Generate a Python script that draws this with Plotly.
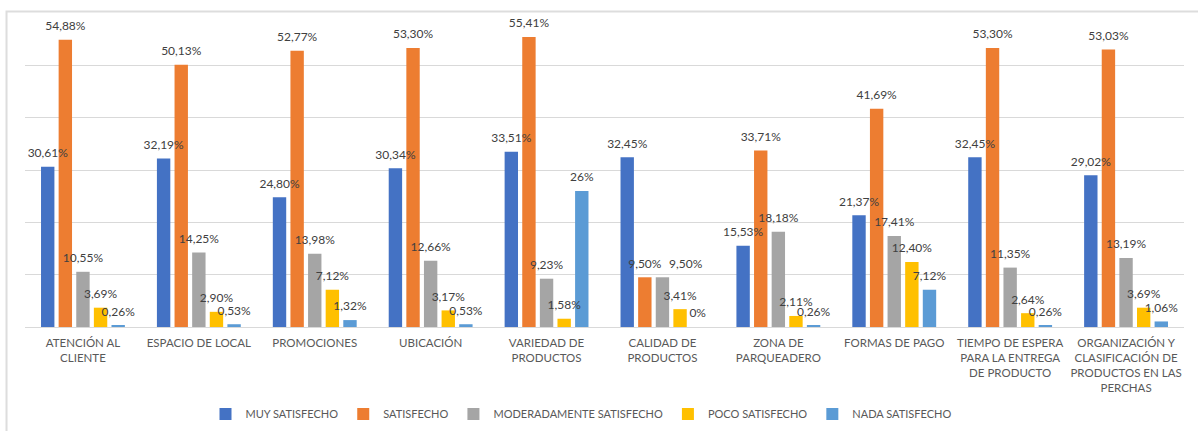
import plotly.graph_objects as go

categories = [
    "ATENCIÓN AL<br>CLIENTE",
    "ESPACIO DE LOCAL",
    "PROMOCIONES",
    "UBICACIÓN",
    "VARIEDAD DE<br>PRODUCTOS",
    "CALIDAD DE<br>PRODUCTOS",
    "ZONA DE<br>PARQUEADERO",
    "FORMAS DE PAGO",
    "TIEMPO DE ESPERA<br>PARA LA ENTREGA<br>DE PRODUCTO",
    "ORGANIZACIÓN Y<br>CLASIFICACIÓN DE<br>PRODUCTOS EN LAS<br>PERCHAS",
]

muy_satisfecho = [30.61, 32.19, 24.80, 30.34, 33.51, 32.45, 15.53, 21.37, 32.45, 29.02]
satisfecho = [54.88, 50.13, 52.77, 53.30, 55.41, 9.50, 33.71, 41.69, 53.30, 53.03]
moderadamente = [10.55, 14.25, 13.98, 12.66, 9.23, 9.50, 18.18, 17.41, 11.35, 13.19]
poco = [3.69, 2.90, 7.12, 3.17, 1.58, 3.41, 2.11, 12.40, 2.64, 3.69]
nada = [0.26, 0.53, 1.32, 0.53, 26, 0, 0.26, 7.12, 0.26, 1.06]

series_names = ["MUY SATISFECHO", "SATISFECHO", "MODERADAMENTE SATISFECHO",
                "POCO SATISFECHO", "NADA SATISFECHO"]
series_values = [muy_satisfecho, satisfecho, moderadamente, poco, nada]
series_colors = ["#4472C4", "#ED7D31", "#A5A5A5", "#FFC000", "#5B9BD5"]


def fmt(v):
    if float(v) == int(v):
        return f"{int(v)}%"
    return f"{v:.2f}%".replace(".", ",")


fig = go.Figure()
for name, vals, col in zip(series_names, series_values, series_colors):
    fig.add_trace(go.Bar(
        x=categories, y=vals, name=name,
        marker=dict(color=col, line=dict(width=0)),
        hoverinfo="skip",
    ))

# data labels drawn above all bars (as in the reference)
for si, (name, vals) in enumerate(zip(series_names, series_values)):
    positions = []
    for ci, v in enumerate(vals):
        # in the reference the second "9,50%" label of CALIDAD DE PRODUCTOS is moved right
        if si == 2 and vals[ci] == series_values[1][ci]:
            positions.append("top right")
        else:
            positions.append("top center")
    fig.add_trace(go.Scatter(
        x=categories, y=vals, name=name + " etiquetas",
        mode="markers+text",
        marker=dict(size=9, opacity=0, color="white"),
        text=[fmt(v) for v in vals],
        textposition=positions,
        textfont=dict(family="Lato, sans-serif", size=12, color="#404040"),
        cliponaxis=False, showlegend=False, hoverinfo="skip",
    ))

W, H = 1198, 431
L, R, T, B = 24.5, 13.7, 13, 104.3
pw = W - L - R
ph = H - T - B


def px_x(x):
    return (x - L) / pw


def px_y(y):
    return (H - B - y) / ph


fig.update_layout(
    width=W, height=H,
    margin=dict(l=L, r=R, t=T, b=B, pad=0, autoexpand=False),
    paper_bgcolor="white", plot_bgcolor="white",
    barmode="group", bargap=0.24, bargroupgap=0.24,
    scattermode="group", scattergap=0.24,
    font=dict(family="Lato, sans-serif", size=11, color="#595959"),
    showlegend=True,
    legend=dict(orientation="h", xref="container", yref="container",
                x=581 / W, y=(H - 414) / H,
                xanchor="center", yanchor="middle",
                font=dict(family="Lato, sans-serif", size=11, color="#595959"),
                itemwidth=30, traceorder="normal"),
    xaxis=dict(showgrid=False, showline=True, linecolor="#D9D9D9", linewidth=1,
               ticks="", ticklabelstandoff=5, automargin=False,
               tickfont=dict(family="Lato, sans-serif", size=11.5, color="#595959"),
               tickangle=0, fixedrange=True),
    yaxis=dict(range=[0, 60], dtick=10, showgrid=True, gridcolor="#D9D9D9",
               gridwidth=1, showticklabels=False, zeroline=False, ticks="",
               showline=False, fixedrange=True, automargin=False),
    shapes=[dict(type="rect", xref="paper", yref="paper",
                 x0=px_x(6), x1=px_x(1210), y0=px_y(445), y1=px_y(11.5),
                 line=dict(color="#DDDDDD", width=2), fillcolor="rgba(0,0,0,0)",
                 layer="below")],
)

fig.write_html("out.html")
